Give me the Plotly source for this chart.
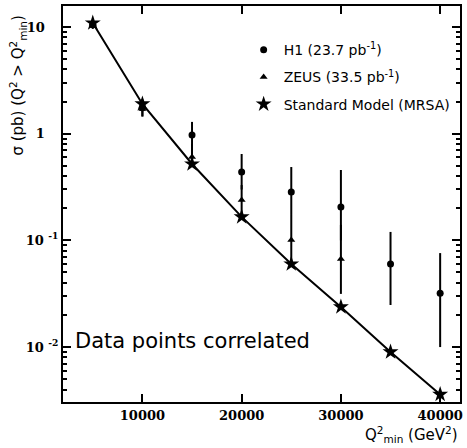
import plotly.graph_objects as go

# ---- data ----
q2_sm = [5000, 10000, 15000, 20000, 25000, 30000, 35000, 40000]
sigma_sm = [10.9, 1.9, 0.52, 0.166, 0.060, 0.0238, 0.0090, 0.0036]

q2_h1 = [5000, 10000, 15000, 20000, 25000, 30000, 35000, 40000]
sigma_h1 = [10.5, 1.75, 0.97, 0.437, 0.284, 0.206, 0.060, 0.032]
h1_upper = [11.5, 2.1, 1.29, 0.645, 0.487, 0.457, 0.12, 0.076]
h1_lower = [9.6, 1.45, 0.62, 0.30, 0.173, 0.10, 0.0248, 0.0100]

q2_zeus = [5000, 10000, 15000, 20000, 25000, 30000]
sigma_zeus = [10.8, 1.7, 0.605, 0.239, 0.101, 0.067]
zeus_upper = [11.6, 1.9, 0.80, 0.33, 0.173, 0.14]
zeus_lower = [10.0, 1.45, 0.50, 0.165, 0.0595, 0.0315]

x_tickvals = [10000, 20000, 30000, 40000]
x_ticktext = ["10000", "20000", "30000", "40000"]
y_tickvals = [0.01, 0.1, 1, 10]
y_ticktext = ["10 <sup>-2</sup>", "10 <sup>-1</sup>", "1\u00a0\u00a0\u00a0", "10\u00a0\u00a0\u00a0"]

legend_h1 = "H1 (23.7 pb<sup>-1</sup>)"
legend_zeus = "ZEUS (33.5 pb<sup>-1</sup>)"
legend_sm = "Standard Model (MRSA)"

y_minor = [m * 10 ** e for e in range(-3, 2) for m in range(2, 10)]

fig = go.Figure()

fig.add_trace(go.Scatter(x=q2_sm, y=sigma_sm, mode="lines",
                         line=dict(color="black", width=2), showlegend=False,
                         hoverinfo="skip"))

fig.add_trace(go.Scatter(
    x=q2_h1, y=sigma_h1, mode="markers", name=legend_h1, legendgroup="h1",
    marker=dict(symbol="circle", size=7, color="black"),
    error_y=dict(type="data", symmetric=False,
                 array=[u - v for u, v in zip(h1_upper, sigma_h1)],
                 arrayminus=[v - l for v, l in zip(sigma_h1, h1_lower)],
                 color="black", thickness=2, width=0)))

fig.add_trace(go.Scatter(
    x=q2_zeus, y=sigma_zeus, mode="markers", name=legend_zeus, legendgroup="zeus",
    marker=dict(symbol="triangle-up", size=7, color="black"),
    error_y=dict(type="data", symmetric=False,
                 array=[u - v for u, v in zip(zeus_upper, sigma_zeus)],
                 arrayminus=[v - l for v, l in zip(sigma_zeus, zeus_lower)],
                 color="black", thickness=2, width=0)))

fig.add_trace(go.Scatter(
    x=q2_sm, y=sigma_sm, mode="markers", name=legend_sm, legendgroup="sm",
    marker=dict(symbol="star", size=12, color="black")))

tickfont = dict(family="DejaVu Serif", size=13, color="black", weight="bold")

fig.update_layout(
    width=467, height=448,
    margin=dict(l=63, r=4, t=6, b=46),
    plot_bgcolor="white", paper_bgcolor="white",
    font=dict(family="DejaVu Sans", color="black"),
    showlegend=True,
    legend=dict(x=0.455, y=0.929, xanchor="left", yanchor="top",
                bgcolor="rgba(0,0,0,0)", font=dict(size=14, family="DejaVu Sans"),
                tracegroupgap=6),
    xaxis=dict(range=[2000, 42000], tickvals=x_tickvals, ticktext=x_ticktext,
               ticks="inside", ticklen=8, tickwidth=1.5, tickcolor="black",
               showline=True, linewidth=2, linecolor="black", mirror="ticks",
               showgrid=False, zeroline=False, tickfont=tickfont),
    yaxis=dict(type="log", range=[-2.515, 1.197], tickvals=y_tickvals,
               ticktext=y_ticktext, ticks="inside", ticklen=8, tickwidth=1.5,
               tickcolor="black", showline=True, linewidth=2, linecolor="black",
               mirror="ticks", showgrid=False, zeroline=False, tickfont=tickfont,
               minor=dict(tickvals=y_minor, ticks="inside", ticklen=4,
                          tickcolor="black", showgrid=False)),
)

fig.add_annotation(text="Data points correlated", xref="paper", yref="paper",
                   x=0.025, y=0.154, xanchor="left", yanchor="middle",
                   showarrow=False, font=dict(size=21, family="DejaVu Sans"))
fig.add_annotation(text="Q<sup>2</sup><sub>min</sub> (GeV<sup>2</sup>)",
                   xref="paper", yref="paper", x=1.0, y=-0.1136,
                   xanchor="right", yanchor="bottom", showarrow=False,
                   font=dict(size=15, family="DejaVu Sans"))
fig.add_annotation(text="σ (pb) (Q<sup>2</sup> > Q<sup>2</sup><sub>min</sub>)",
                   xref="paper", yref="paper", x=-0.115, y=0.80,
                   xanchor="center", yanchor="middle", textangle=-90,
                   showarrow=False, font=dict(size=15, family="DejaVu Sans"))

fig.write_html("out.html")
